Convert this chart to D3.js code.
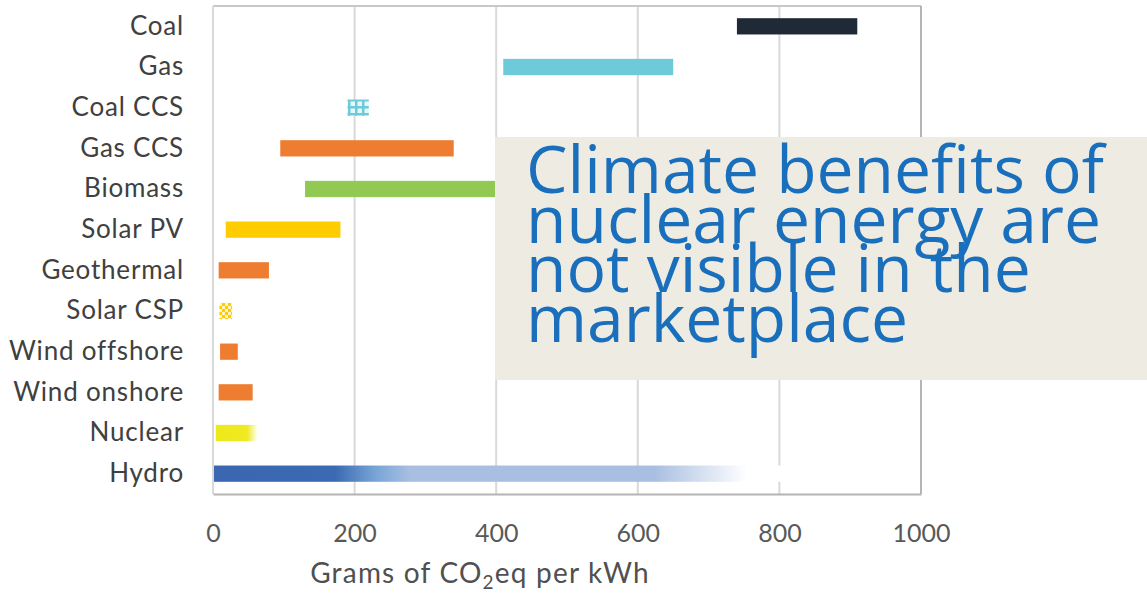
<!DOCTYPE html>
<html>
<head>
<meta charset="utf-8">
<script src="https://cdn.jsdelivr.net/npm/d3@7"></script>
<style>
  body { margin: 0; background: #fff; }
  svg { display: block; }
</style>
</head>
<body>
<div id="chart-area"></div>
<script>
// life-cycle emissions ranges, g CO2eq per kWh
var categories = ["Coal", "Gas", "Coal CCS", "Gas CCS", "Biomass", "Solar PV", "Geothermal",
                  "Solar CSP", "Wind offshore", "Wind onshore", "Nuclear", "Hydro"];
var lowValues  = [740, 410, 190,  95, 130,  18,  8,  9, 10,  8,  4,   0];
var highValues = [910, 650, 220, 340, 430, 180, 79, 27, 35, 56, 63, 820];
var fills = ["#1f2a36", "#6ccad9", "url(#hatch)", "#ee7d31", "#92c953", "#ffcc00", "#ee7d31",
             "url(#checker)", "#ee7d31", "#ee7d31", "url(#nuclearFade)", "url(#hydroFade)"];
var ticks = [0, 200, 400, 600, 800, 1000];
var calloutLines = ["Climate benefits of", "nuclear energy are", "not visible in the", "marketplace"];

var data = categories.map((c, i) => ({ name: c, low: lowValues[i], high: highValues[i], fill: fills[i] }));

var margin = { top: 6, right: 226, bottom: 99, left: 213 },
    width = 1147 - margin.left - margin.right,
    height = 593 - margin.top - margin.bottom;

var svg = d3.select("#chart-area")
    .append("svg")
    .attr("width", 1147)
    .attr("height", 593);

var defs = svg.append("defs");

// hatched fill for Coal CCS
var hatch = defs.append("pattern")
    .attr("id", "hatch")
    .attr("patternUnits", "userSpaceOnUse")
    .attr("width", 7).attr("height", 7);
hatch.append("rect").attr("width", 7).attr("height", 7).attr("fill", "#e6f6f9");
hatch.append("rect").attr("x", 2).attr("width", 2.5).attr("height", 7).attr("fill", "#6ccad9");
hatch.append("rect").attr("y", 2).attr("width", 7).attr("height", 2.5).attr("fill", "#6ccad9");

// checker fill for Solar CSP
var checker = defs.append("pattern")
    .attr("id", "checker")
    .attr("patternUnits", "userSpaceOnUse")
    .attr("width", 6).attr("height", 6);
checker.append("rect").attr("width", 6).attr("height", 6).attr("fill", "#fff4c4");
checker.append("rect").attr("width", 3).attr("height", 3).attr("fill", "#ffcc00");
checker.append("rect").attr("x", 3).attr("y", 3).attr("width", 3).attr("height", 3).attr("fill", "#ffcc00");

var nuc = defs.append("linearGradient").attr("id", "nuclearFade");
nuc.append("stop").attr("offset", "0%").attr("stop-color", "#eee91a");
nuc.append("stop").attr("offset", "75%").attr("stop-color", "#efea22");
nuc.append("stop").attr("offset", "100%").attr("stop-color", "#ffffff");

var hyd = defs.append("linearGradient").attr("id", "hydroFade");
hyd.append("stop").attr("offset", "0%").attr("stop-color", "#3a67b0");
hyd.append("stop").attr("offset", "21%").attr("stop-color", "#3b69b2");
hyd.append("stop").attr("offset", "28%").attr("stop-color", "#78a5d6");
hyd.append("stop").attr("offset", "34%").attr("stop-color", "#a9bfe1");
hyd.append("stop").attr("offset", "76%").attr("stop-color", "#a9bfe1");
hyd.append("stop").attr("offset", "92%").attr("stop-color", "#ffffff");
hyd.append("stop").attr("offset", "100%").attr("stop-color", "#ffffff");

var g = svg.append("g")
    .attr("transform", "translate(" + margin.left + "," + margin.top + ")");

var x = d3.scaleLinear()
    .domain([0, 1000])
    .range([0, width]);

var y = d3.scaleBand()
    .domain(categories)
    .range([0, height])
    .paddingInner(0.6)
    .paddingOuter(0.3);

// gridlines
g.selectAll(".grid")
    .data(ticks.slice(1, -1))
    .enter()
    .append("line")
    .attr("class", "grid")
    .attr("x1", (d) => x(d)).attr("x2", (d) => x(d))
    .attr("y1", 0).attr("y2", height)
    .attr("stroke", "#d9d9d9")
    .attr("stroke-width", 2);

g.selectAll(".range-bar")
    .data(data)
    .enter()
    .append("rect")
    .attr("class", "range-bar")
    .attr("x", (d) => x(d.low))
    .attr("y", (d) => y(d.name))
    .attr("width", (d) => x(d.high) - x(d.low))
    .attr("height", y.bandwidth())
    .attr("fill", (d) => d.fill);

// plot frame
g.append("line").attr("x1", 0).attr("x2", width).attr("y1", 0).attr("y2", 0)
    .attr("stroke", "#c8c8c8").attr("stroke-width", 2);
g.append("line").attr("x1", width).attr("x2", width).attr("y1", 0).attr("y2", height)
    .attr("stroke", "#b4b4b4").attr("stroke-width", 2);
g.append("line").attr("x1", 0).attr("x2", 0).attr("y1", 0).attr("y2", height)
    .attr("stroke", "#d9d9d9").attr("stroke-width", 2);

var xAxis = g.append("g")
    .attr("class", "x-axis")
    .attr("transform", "translate(0," + height + ")")
    .call(d3.axisBottom(x).tickValues(ticks).tickSize(0).tickPadding(30).tickFormat(d3.format("d")));
xAxis.select(".domain").attr("stroke", "#b4b4b4").attr("stroke-width", 2);
xAxis.selectAll("text")
    .attr("fill", "#595959")
    .style("font-family", "Lato, sans-serif")
    .style("font-size", "25px");

var yAxis = g.append("g")
    .attr("class", "y-axis")
    .call(d3.axisLeft(y).tickSize(0).tickPadding(29));
yAxis.select(".domain").remove();
yAxis.selectAll("text")
    .attr("fill", "#404040")
    .style("font-family", "Lato, sans-serif")
    .style("font-size", "26px")
    .style("letter-spacing", "0.8px");

var title = g.append("text")
    .attr("class", "x-axis-label")
    .attr("x", 267)
    .attr("y", height + 89)
    .attr("text-anchor", "middle")
    .attr("fill", "#505050")
    .style("font-family", "Lato, sans-serif")
    .style("font-size", "28px")
    .style("letter-spacing", "1.2px");
title.append("tspan").text("Grams of CO");
title.append("tspan").attr("dy", 6).style("font-size", "19px").text("2");
title.append("tspan").attr("dy", -6).text("eq per kWh");

// callout box
svg.append("rect")
    .attr("x", 495).attr("y", 137)
    .attr("width", 652).attr("height", 243)
    .attr("fill", "#eeece2");

var callout = svg.append("text")
    .attr("fill", "#1a6fbd")
    .style("font-family", "'Open Sans', sans-serif")
    .style("font-size", "60px");
calloutLines.forEach((line, i) => {
    callout.append("tspan")
        .attr("x", 526)
        .attr("y", 193 + i * 49.7)
        .text(line);
});
// scale font so first line spans the same width as the reference
var first = callout.select("tspan").node().getComputedTextLength();
callout.style("font-size", (60 * 578 / first) + "px");
</script>
</body>
</html>
